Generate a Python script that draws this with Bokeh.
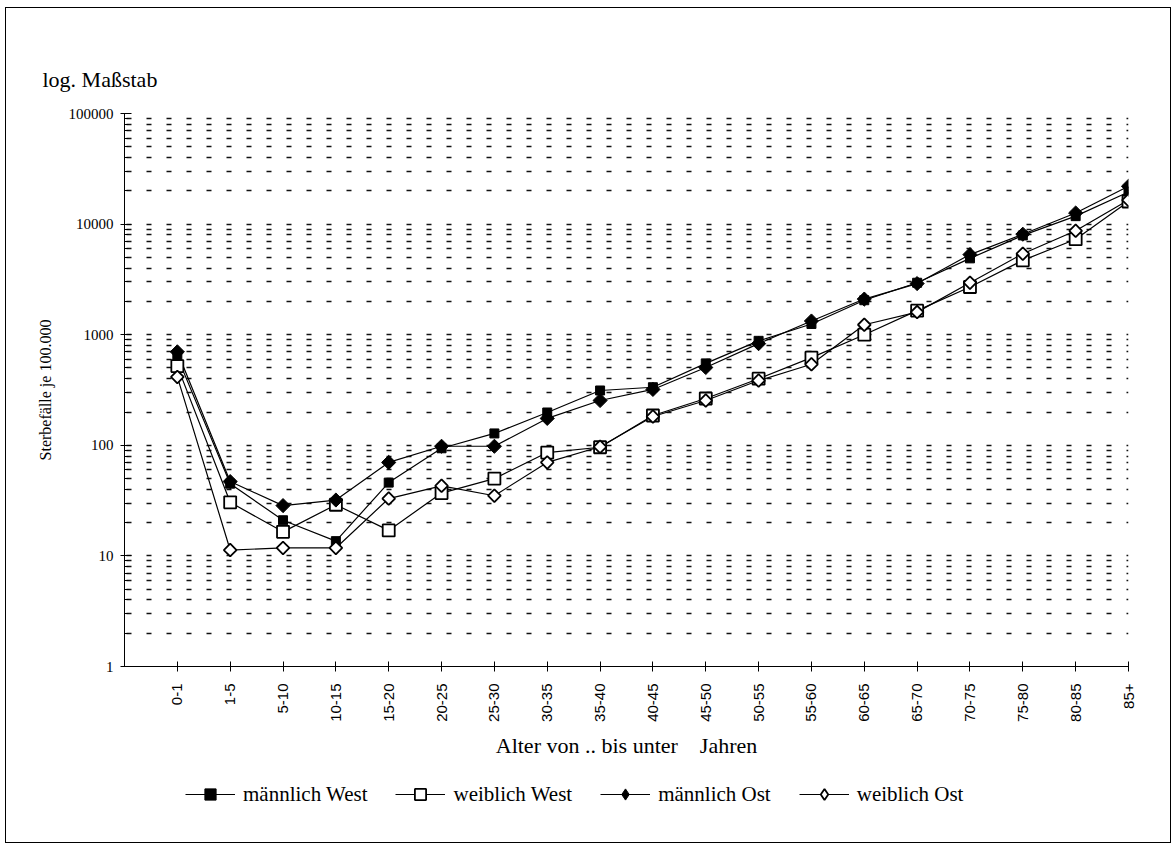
import math
from bokeh.plotting import figure
from bokeh.layouts import column
from bokeh.models import Range1d, FixedTicker, PrintfTickFormatter, Legend, LegendItem
from bokeh.embed import file_html
from bokeh.resources import INLINE

# ---------------- data ----------------
ages = ["0-1", "1-5", "5-10", "10-15", "15-20", "20-25", "25-30", "30-35", "35-40",
        "40-45", "45-50", "50-55", "55-60", "60-65", "65-70", "70-75", "75-80",
        "80-85", "85+"]
maennlich_west = [630, 45, 21, 13.6, 46, 94, 128, 198, 313, 335, 550, 880, 1250,
                  2050, 2950, 4900, 7900, 11800, 19500]
weiblich_west = [520, 30.5, 16.5, 29, 17, 37, 50, 86, 96, 186, 265, 400, 620,
                 1000, 1650, 2700, 4700, 7300, 16000]
maennlich_ost = [700, 47, 28.5, 32, 70, 98, 98, 175, 254, 320, 505, 830, 1330,
                 2100, 2900, 5300, 8100, 12600, 22000]
weiblich_ost = [415, 11.3, 11.8, 11.8, 33, 43, 35, 70, 97, 182, 254, 385, 540,
                1230, 1600, 2950, 5400, 8700, 16500]
y_major = [1, 10, 100, 1000, 10000, 100000]
y_minor = [m * d for d in [1, 10, 100, 1000, 10000] for m in range(2, 10)]

x = list(range(len(ages)))
SERIF = "Liberation Serif"
W, H1, H2 = 1164, 760, 74

p = figure(width=W, height=H1, y_axis_type="log",
           x_range=Range1d(-1, len(ages) - 1), y_range=Range1d(1, 100000),
           output_backend="svg", toolbar_location=None,
           min_border_left=118, min_border_right=42,
           min_border_top=105, min_border_bottom=102)
p.outline_line_color = None
p.background_fill_color = "white"
p.border_fill_color = "white"

# title
p.title.text = "log. Maßstab"
p.title.align = "left"
p.title.offset = -82
p.title.standoff = 44
p.title.text_font = SERIF
p.title.text_font_style = "normal"
p.title.text_font_size = "22px"
p.title.text_color = "black"

# grid
p.xgrid.visible = False
p.ygrid.ticker = FixedTicker(ticks=y_major[1:], minor_ticks=y_minor)
for attr in ["grid", "minor_grid"]:
    setattr(p.ygrid, attr + "_line_color", "#111")
    setattr(p.ygrid, attr + "_line_width", 1.6)
    setattr(p.ygrid, attr + "_line_dash", "5 15")
    setattr(p.ygrid, attr + "_line_dash_offset", 18)

# y axis
ya = p.yaxis[0]
ya.ticker = FixedTicker(ticks=y_major, minor_ticks=y_minor)
ya.formatter = PrintfTickFormatter(format="%d")
ya.axis_line_color = "black"
ya.major_tick_out = 4
ya.major_tick_in = 7
ya.minor_tick_out = 0
ya.minor_tick_in = 4
ya.major_tick_line_color = "black"
ya.minor_tick_line_color = "black"
ya.major_label_text_font = SERIF
ya.major_label_text_font_size = "15px"
ya.major_label_text_color = "black"
ya.major_label_standoff = 7
ya.axis_label = "Sterbefälle je 100.000"
ya.axis_label_text_font = SERIF
ya.axis_label_text_font_style = "normal"
ya.axis_label_text_font_size = "16px"
ya.axis_label_text_color = "black"
ya.axis_label_standoff = 12

# x axis
xa = p.xaxis[0]
xa.ticker = FixedTicker(ticks=x)
xa.major_label_overrides = {i: a for i, a in enumerate(ages)}
xa.major_label_orientation = math.pi / 2
xa.major_tick_in = 5
xa.major_tick_out = 5
xa.minor_tick_line_color = None
xa.axis_line_color = "black"
xa.major_tick_line_color = "black"
xa.major_label_text_font = "Liberation Sans"
xa.major_label_text_font_size = "15px"
xa.major_label_text_color = "black"
xa.major_label_standoff = 12
xa.axis_label = "Alter von .. bis unter\u00a0\u00a0\u00a0\u00a0Jahren"
xa.axis_label_text_font = SERIF
xa.axis_label_text_font_style = "normal"
xa.axis_label_text_font_size = "22px"
xa.axis_label_text_color = "black"
xa.axis_label_standoff = 8

# series: (label, values, marker, size, angle, fill, line width)
series = [
    ("männlich West", maennlich_west, "square", 9, 0, "black", 1.0),
    ("weiblich West", weiblich_west, "square", 12, 0, "white", 1.8),
    ("männlich Ost", maennlich_ost, "square", 10, math.pi / 4, "black", 1.0),
    ("weiblich Ost", weiblich_ost, "square", 9, math.pi / 4, "white", 1.8),
]
for name, vals, mk, sz, ang, fill, lw in series:
    p.line(x, vals, line_color="black", line_width=1.2)
for name, vals, mk, sz, ang, fill, lw in series:
    p.scatter(x, vals, marker=mk, size=sz, angle=ang, fill_color=fill,
              line_color="black", line_width=lw)

# legend strip below the chart (its own renderers lie outside its visible range)
p2 = figure(width=W, height=H2, output_backend="svg", toolbar_location=None,
            x_range=Range1d(-1, len(ages) - 1), y_range=Range1d(-2, -1),
            x_axis_location=None, y_axis_location=None, min_border=0)
p2.grid.visible = False
p2.outline_line_color = None
legend_markers = ["square", "square", "diamond", "diamond"]
items = []
for (name, vals, mk, sz, ang, fill, lw), lm in zip(series, legend_markers):
    ln = p2.line(x, vals, line_color="black", line_width=1.2)
    sc = p2.scatter(x, vals, marker=lm, fill_color=fill, line_color="black",
                    line_width=lw)
    items.append(LegendItem(label=name, renderers=[ln, sc]))
legend = Legend(items=items, orientation="horizontal", location=(61, 34),
                glyph_width=50, glyph_height=28, label_standoff=8, spacing=28,
                label_text_font=SERIF, label_text_font_size="21px",
                label_text_color="black", border_line_color=None,
                background_fill_alpha=0, margin=0, padding=2)
p2.add_layout(legend, "center")

layout = column(p, p2, spacing=0,
                styles={"border": "1px solid black", "margin-left": "5px",
                        "margin-top": "7px"})
open("out.html", "w").write(file_html(layout, INLINE))
